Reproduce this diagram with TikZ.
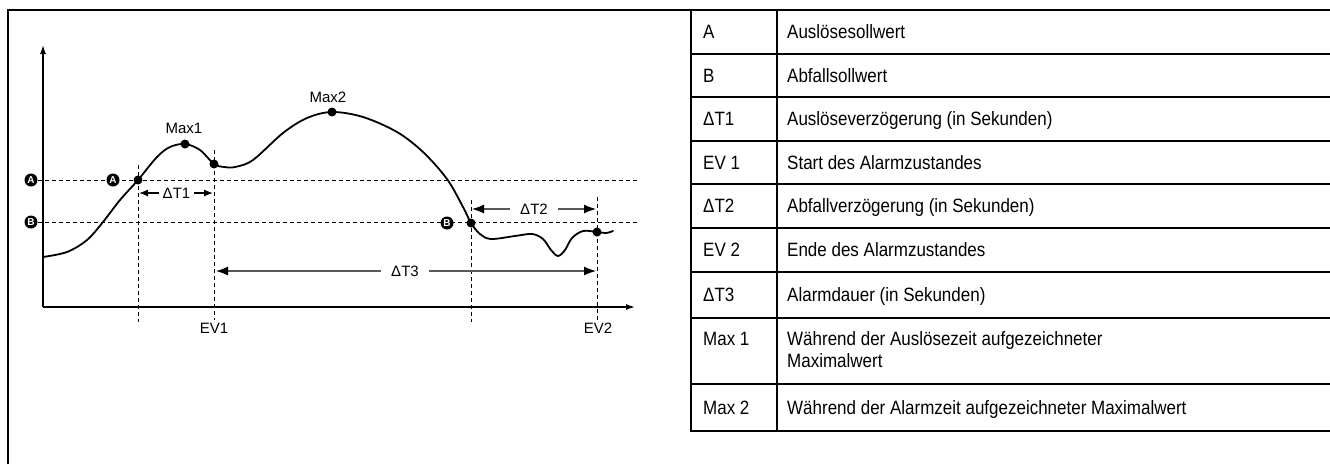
\documentclass[tikz,border=0pt]{standalone}
\usepackage{fontspec}
\setmainfont{Liberation Sans}
\newfontfamily\tabfont[FakeStretch=0.88]{Liberation Sans}
\usetikzlibrary{arrows.meta}
\begin{document}
\begin{tikzpicture}[x=1pt,y=-1pt,
  outer/.style={line width=2pt},
  rule/.style={line width=2pt},
  cell/.style={anchor=base west, inner sep=0pt, font=\tabfont\fontsize{19.3}{22}\selectfont},
  lbl/.style={inner sep=0pt, font=\fontsize{15}{17}\selectfont},
  guide/.style={line width=0.9pt, dash pattern=on 4pt off 3pt},
  signal/.style={line width=1.8pt, line join=round, line cap=round},
  bullet/.style={circle, fill=black, inner sep=0pt, minimum size=9pt},
  badge/.style={circle, fill=black, inner sep=0pt, minimum size=13pt, text=white, font=\bfseries\fontsize{10}{10}\selectfont},
  axisline/.style={line width=1.3pt, -{Latex[length=9pt,width=6pt]}},
  dimarrow/.style={line width=1.2pt, draw=black!65, -{Latex[length=12pt,width=9pt,color=black]}},
  dimsmall/.style={line width=1.2pt, -{Latex[length=9pt,width=7pt]}},
]
\useasboundingbox (0,0) rectangle (1330,464);

% outer frame
\draw[outer] (7.8,464) -- (7.8,10) -- (1330,10);

% ---------- table ----------
\draw[rule] (691,10) -- (691,431) -- (1330,431);
\draw[rule] (777,10) -- (777,431);
\foreach \y in {53.5,97,140.5,184,228,272,318,384}
  \draw[rule] (691,\y) -- (1330,\y);

\node[cell] (k1) at (703,38.6) {A};
\node[cell] (v1) at (787,38.6) {Auslösesollwert};
\node[cell] (k2) at (703,82.2) {B};
\node[cell] (v2) at (787,82.2) {Abfallsollwert};
\node[cell] (k3) at (703,125.7) {ΔT1};
\node[cell] (v3) at (787,125.7) {Auslöseverzögerung (in Sekunden)};
\node[cell] (k4) at (703,169.2) {EV 1};
\node[cell] (v4) at (787,169.2) {Start des Alarmzustandes};
\node[cell] (k5) at (703,212.9) {ΔT2};
\node[cell] (v5) at (787,212.9) {Abfallverzögerung (in Sekunden)};
\node[cell] (k6) at (703,256.9) {EV 2};
\node[cell] (v6) at (787,256.9) {Ende des Alarmzustandes};
\node[cell] (k7) at (703,301.9) {ΔT3};
\node[cell] (v7) at (787,301.9) {Alarmdauer (in Sekunden)};
\node[cell] (k8) at (703,345.9) {Max 1};
\node[cell] (v8a) at (787,345.9) {Während der Auslösezeit aufgezeichneter};
\node[cell] (v8b) at (787,367.9) {Maximalwert};
\node[cell] (k9) at (703,414.4) {Max 2};
\node[cell] (v9) at (787,414.4) {Während der Alarmzeit aufgezeichneter Maximalwert};

% ---------- chart ----------
\coordinate (O) at (43,307);
\coordinate (ytop) at (43,45);
\coordinate (xend) at (635,307);

% guide lines
\draw[guide] (38,180) -- (638,180);
\draw[guide] (38,222) -- (638,222);
\draw[guide] (138,165) -- (138,322);
\draw[guide] (214,150) -- (214,320);
\draw[guide] (471,200) -- (471,322);
\draw[guide] (597,197) -- (597,320);

% axes
\draw[axisline] (O) -- (ytop);
\draw[axisline] (O) -- (xend);

% signal curve
\draw[signal] plot[smooth, tension=0.55] coordinates {
 (43,257) (67,252) (87,240) (103,222) (120,200) (138,180) (157,157) (170,147)
 (185,144) (200,150) (214,164) (224,167) (235,167) (253,160) (283,133) (307,118)
 (332,112) (363,117) (397,132) (423,152) (447,179) (463,207) (471,223) (480,234)
 (491,239) (515,236) (532,234) (543,239) (551,250) (558,256) (565,250) (572,238)
 (583,231) (597,232) (606,233) (613,231)};

% points on curve
\node[bullet] (pA) at (138,180) {};
\node[bullet] (pM1) at (185,144) {};
\node[bullet] (pEV1) at (214,164) {};
\node[bullet] (pM2) at (332,112) {};
\node[bullet] (pB) at (471,223) {};
\node[bullet] (pEV2) at (597,232) {};

% badges
\node[badge] (bA1) at (31,180) {A};
\node[badge] (bA2) at (113,180) {A};
\node[badge] (bB1) at (31,222) {B};
\node[badge] (bB2) at (447,223) {B};

% labels
\node[lbl] (lM1) at (184,128) {Max1};
\node[lbl] (lM2) at (328,97) {Max2};
\node[lbl] (lEV1) at (214,328) {EV1};
\node[lbl] (lEV2) at (598,328) {EV2};

% delta T dimensions
\node[lbl] (dT1) at (176.5,193) {ΔT1};
\coordinate (t1l) at (139,193);
\coordinate (t1r) at (213,193);
\draw[dimsmall] ([xshift=-4pt]dT1.west) -- (t1l);
\draw[dimsmall] ([xshift=4pt]dT1.east) -- (t1r);

\node[lbl] (dT2) at (534,209) {ΔT2};
\coordinate (t2l) at (472,209);
\coordinate (t2r) at (596,209);
\draw[dimarrow] ([xshift=-10pt]dT2.west) -- (t2l);
\draw[dimarrow] ([xshift=10pt]dT2.east) -- (t2r);

\node[lbl] (dT3) at (405,271) {ΔT3};
\coordinate (t3l) at (216,271);
\coordinate (t3r) at (596,271);
\draw[dimarrow] ([xshift=-10pt]dT3.west) -- (t3l);
\draw[dimarrow] ([xshift=10pt]dT3.east) -- (t3r);
\end{tikzpicture}
\end{document}
